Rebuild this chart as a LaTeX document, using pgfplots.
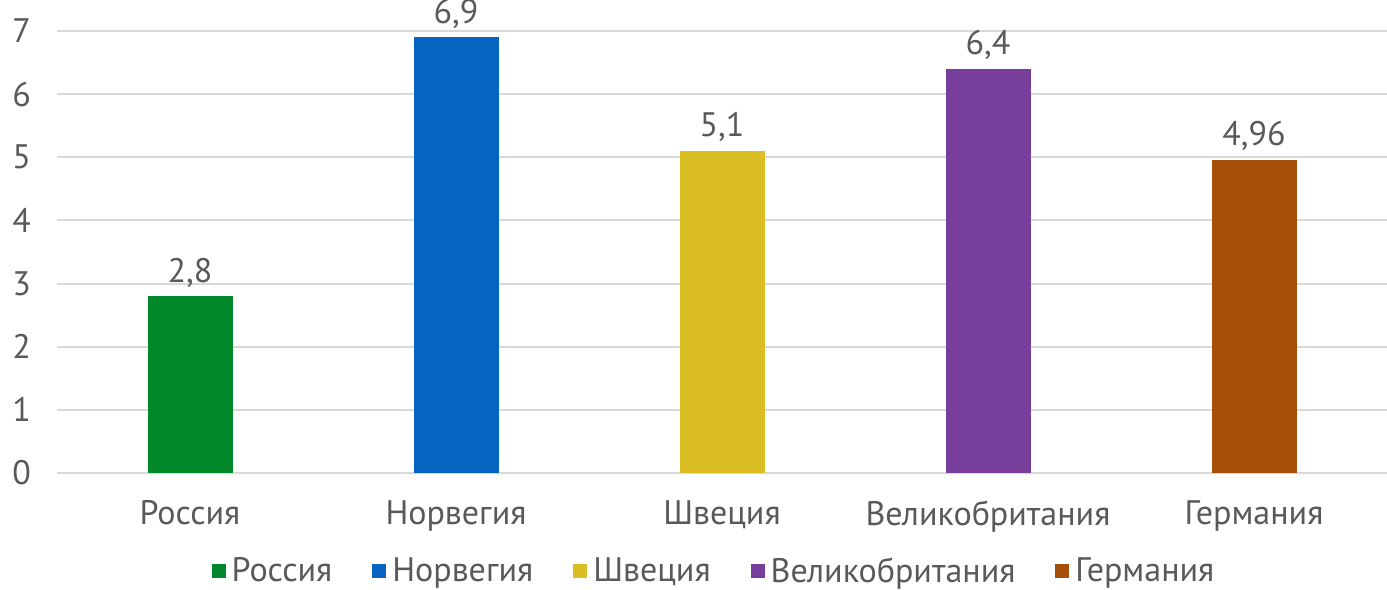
\documentclass[border=0pt]{standalone}
\usepackage{fontspec}
\setmainfont{PT Sans}
\usepackage{pgfplots}
\pgfplotsset{compat=1.18}
\definecolor{cRus}{RGB}{0,136,43}
\definecolor{cNor}{RGB}{5,99,193}
\definecolor{cSwe}{RGB}{219,190,36}
\definecolor{cGbr}{RGB}{120,62,155}
\definecolor{cGer}{RGB}{166,79,11}
\definecolor{txtgray}{RGB}{89,89,89}
\definecolor{gridgray}{RGB}{217,217,217}

\begin{document}
\begin{tikzpicture}
\begin{axis}[
    name=main,
    scale only axis,
    width=665pt, height=221pt,
    xmin=-0.5, xmax=4.5,
    ymin=0, ymax=7,
    ytick={0,1,...,7},
    xtick={0,1,2,3,4},
    xticklabels={Россия,Норвегия,Швеция,Великобритания,Германия},
    axis line style={draw=none},
    axis x line*=bottom,
    x axis line style={draw=gridgray, line width=1pt},
    tick style={draw=none},
    xmajorgrids=false,
    ymajorgrids=true,
    grid style={draw=gridgray, line width=1pt},
    font=\fontsize{17}{20}\selectfont\color{txtgray},
    ticklabel style={font=\fontsize{17}{20}\selectfont, text=txtgray},
    yticklabel style={anchor=west, xshift=-25.8pt},
    xticklabel style={yshift=-6pt},
    /pgf/number format/assume math mode=true,
    /pgf/number format/use comma,
    ybar, bar width=42.5pt, bar shift=0pt,
    nodes near coords,
    nodes near coords style={font=\fontsize{17}{20}\selectfont, text=txtgray, yshift=1pt,
        /pgf/number format/precision=2},
    legend style={at={(0.5,0)}, anchor=north, yshift=-38pt, xshift=-3.5pt, draw=none, fill=none,
        legend columns=5, font=\fontsize{17}{20}\selectfont, text=txtgray,
        /tikz/every odd column/.append style={column sep=1pt},
        /tikz/every even column/.append style={column sep=18pt}},
    legend image code/.code={\fill[#1] (0pt,-3.5pt) rectangle (7pt,3.5pt);},
    clip=false,
]
\addplot[fill=cRus, draw=none] coordinates {(0,2.8)};
\addplot[fill=cNor, draw=none] coordinates {(1,6.9)};
\addplot[fill=cSwe, draw=none] coordinates {(2,5.1)};
\addplot[fill=cGbr, draw=none] coordinates {(3,6.4)};
\addplot[fill=cGer, draw=none] coordinates {(4,4.96)};
\legend{Россия,Норвегия,Швеция,Великобритания,Германия}
\end{axis}
\pgfresetboundingbox
\path ([xshift=-28.5pt,yshift=-58.5pt]main.south west) rectangle ([yshift=15.5pt]main.north east);
\end{tikzpicture}
\end{document}
